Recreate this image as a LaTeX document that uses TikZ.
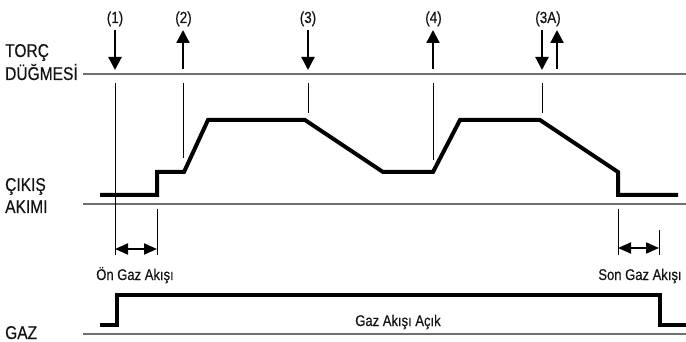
\documentclass[tikz,border=0pt]{standalone}
\usepackage{fontspec}
\setmainfont{Liberation Sans}[FakeStretch=0.84, FakeBold=0.5]
\usetikzlibrary{arrows.meta}
\definecolor{axisgrey}{HTML}{707070}
\definecolor{ink}{HTML}{141414}
\tikzset{
  axis/.style={draw=axisgrey, line width=1.8pt},
  subaxis/.style={draw=axisgrey, line width=1.3pt},
  wave/.style={draw=black, line width=4pt, line join=miter},
  tick/.style={draw=black, line width=0.9pt},
  press/.style={draw=black, line width=2.2pt, -{Triangle[width=13pt,length=13pt]}},
  span/.style={draw=black, line width=1.8pt, {Triangle[width=11pt,length=13pt]}-{Triangle[width=11pt,length=13pt]}},
  biglbl/.style={anchor=base west, inner sep=0pt, text=ink, font=\fontsize{18.5}{22}\selectfont},
  numlbl/.style={anchor=base, inner sep=0pt, text=ink, font=\fontsize{16}{19}\selectfont},
  smalllbl/.style={anchor=base, inner sep=0pt, text=ink, font=\fontsize{15.5}{18}\selectfont},
}
\begin{document}
\begin{tikzpicture}[x=1pt, y=-1pt]
\useasboundingbox (0,0) rectangle (686,342);

% row labels
\node[biglbl] (torc1) at (5,57) {TORÇ};
\node[biglbl] (torc2) at (5,80) {DÜĞMESİ};
\node[biglbl] (cik1) at (5,191) {ÇIKIŞ};
\node[biglbl] (cik2) at (5,213) {AKIMI};
\node[biglbl] (gaz) at (5,339) {GAZ};

% baselines of the three traces
\draw[axis] (83,74) -- (686,74);
\draw[subaxis] (83,204) -- (686,204);
\draw[axis] (83,334) -- (686,334);

% trigger events
\node[numlbl] (n1) at (115,23) {(1)};
\node[numlbl] (n2) at (183.5,23) {(2)};
\node[numlbl] (n3) at (308,23) {(3)};
\node[numlbl] (n4) at (433.5,23) {(4)};
\node[numlbl] (n3a) at (548,23) {(3A)};

\draw[press] (115,30) -- (115,70);
\draw[press] (183,69) -- (183,30);
\draw[press] (308,30) -- (308,70);
\draw[press] (433,69) -- (433,30);
\draw[press] (542,30) -- (542,70);
\draw[press] (557,69) -- (557,30);

% guide lines below the trigger line
\draw[tick] (115,83) -- (115,255);
\draw[tick] (183,83) -- (183,158);
\draw[tick] (308,83) -- (308,113);
\draw[tick] (433,83) -- (433,160);
\draw[tick] (542,83) -- (542,113);

% output current trace
\draw[wave] (100,195) -- (157,195) -- (157,172) -- (184,172) -- (208,120)
  -- (305,120) -- (383,172) -- (433,172) -- (460,120) -- (540,120)
  -- (618,172) -- (618,195) -- (678,195);

% pre-flow interval
\draw[tick] (157,209) -- (157,255);
\draw[span] (115,249) -- (157,249);
\node[smalllbl] (pre) at (135,280) {Ön Gaz Akışı};

% post-flow interval
\draw[tick] (618,209) -- (618,255);
\draw[tick] (659,230) -- (659,255);
\draw[span] (618,248) -- (659,248);
\node[smalllbl] (post) at (640,280) {Son Gaz Akışı};

% gas trace
\draw[wave] (100,325) -- (117,325) -- (117,295) -- (660,295) -- (660,325) -- (686,325);
\node[smalllbl] (gason) at (398,326) {Gaz Akışı Açık};
\end{tikzpicture}
\end{document}
